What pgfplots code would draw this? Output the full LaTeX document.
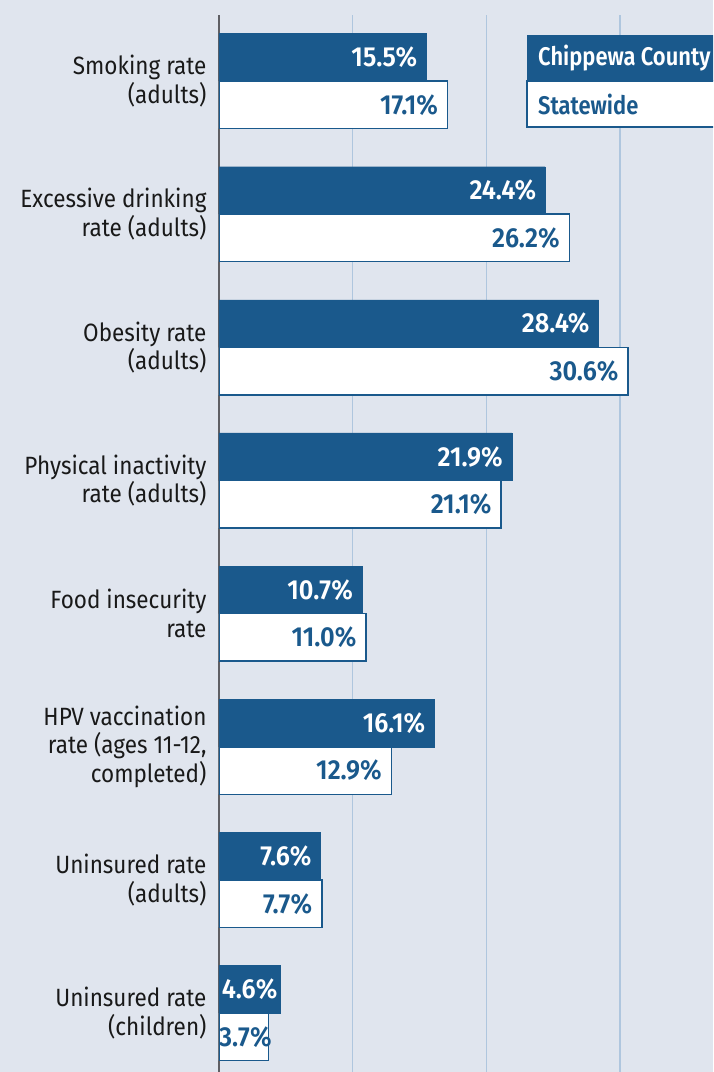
\documentclass[border=0pt]{standalone}
\usepackage{pgfplots}
\pgfplotsset{compat=1.18}
\usepackage{pgfplotstable}
\usepackage{fontspec}
\setmainfont[FakeStretch=0.90]{Fira Sans}
\newfontfamily\semi[FakeStretch=0.92]{Fira Sans SemiBold}
\newfontfamily\semileg[FakeStretch=0.86]{Fira Sans SemiBold}
\definecolor{navy}{RGB}{26,89,140}
\definecolor{bgc}{RGB}{224,229,238}
\definecolor{gridc}{RGB}{175,198,222}
\definecolor{axc}{RGB}{95,95,100}
\definecolor{txt}{RGB}{25,25,25}

\pgfplotstableread{
y v dx
-0.1785 15.5 -9
0.8215 24.4 -9
1.8215 28.4 -9
2.8215 21.9 -9
3.8215 10.7 -9
4.8215 16.1 -9
5.8215 7.6 -9
6.8215 4.6 -3
}\county
\pgfplotstableread{
y v dx
0.1785 17.1 -9
1.1785 26.2 -9
2.1785 30.6 -9
3.1785 21.1 -9
4.1785 11.0 -9
5.1785 12.9 -9
6.1785 7.7 -9
7.1785 3.7 4
}\state

\begin{document}
\begin{tikzpicture}
\fill[bgc] (-219pt,0) rectangle (494pt,1072pt);
\begin{axis}[
  name=ax,
  at={(0,0)}, anchor=south west,
  width=494pt, height=1057pt, scale only axis,
  xmin=0, xmax=36.95,
  ymin=-0.496, ymax=7.443,
  y dir=reverse,
  axis line style={draw=none},
  xtick={10,20,30}, xticklabels={},
  xmajorgrids, grid style={draw=gridc, line width=1.5pt},
  extra x ticks={0}, extra x tick labels={},
  extra x tick style={grid style={draw=axc, line width=2pt}},
  major tick length=0pt,
  ytick={0,...,7},
  yticklabels={{Smoking rate\\(adults)},{Excessive drinking\\rate (adults)},{Obesity rate\\(adults)},{Physical inactivity\\rate (adults)},{Food insecurity\\rate},{HPV vaccination\\rate (ages 11-12,\\completed)},{Uninsured rate\\(adults)},{Uninsured rate\\(children)}},
  yticklabel style={align=right, font=\fontsize{25}{28.5}\selectfont, text=txt, xshift=-9pt},
  /pgf/number format/assume math mode=true,
  point meta=x,
  clip=true,
]
\addplot[xbar, bar width=47.5pt, fill=navy, draw=navy,
  visualization depends on={\thisrow{dx} \as \dx},
  nodes near coords={\pgfmathprintnumber[fixed,fixed zerofill,precision=1]{\pgfplotspointmeta}\%},
  every node near coord/.append style={anchor=east, xshift=\dx pt, text=white, font=\semi\fontsize{27.5}{30}\selectfont, inner sep=0pt}]
  table[x=v,y=y]{\county};
\addplot[xbar, bar width=47.5pt, fill=white, draw=navy, line width=1.5pt,
  visualization depends on={\thisrow{dx} \as \dx},
  nodes near coords={\pgfmathprintnumber[fixed,fixed zerofill,precision=1]{\pgfplotspointmeta}\%},
  every node near coord/.append style={anchor=east, xshift=\dx pt, text=navy, font=\semi\fontsize{27.5}{30}\selectfont, inner sep=0pt}]
  table[x=v,y=y]{\state};
\fill[navy] (axis cs:23.04,-0.346) rectangle (axis cs:40,0);
\filldraw[fill=white, draw=navy, line width=1.5pt] (axis cs:23.04,0) rectangle (axis cs:40,0.346);
\node[anchor=west, inner sep=0pt, text=white, font=\semileg\fontsize{25.5}{28}\selectfont] at (axis cs:23.86,-0.173) {Chippewa County};
\node[anchor=west, inner sep=0pt, text=navy, font=\semileg\fontsize{25.5}{28}\selectfont] at (axis cs:23.86,0.173) {Statewide};
\end{axis}
\pgfresetboundingbox
\path[use as bounding box] (-219pt,0) rectangle (494pt,1072pt);
\end{tikzpicture}
\end{document}
